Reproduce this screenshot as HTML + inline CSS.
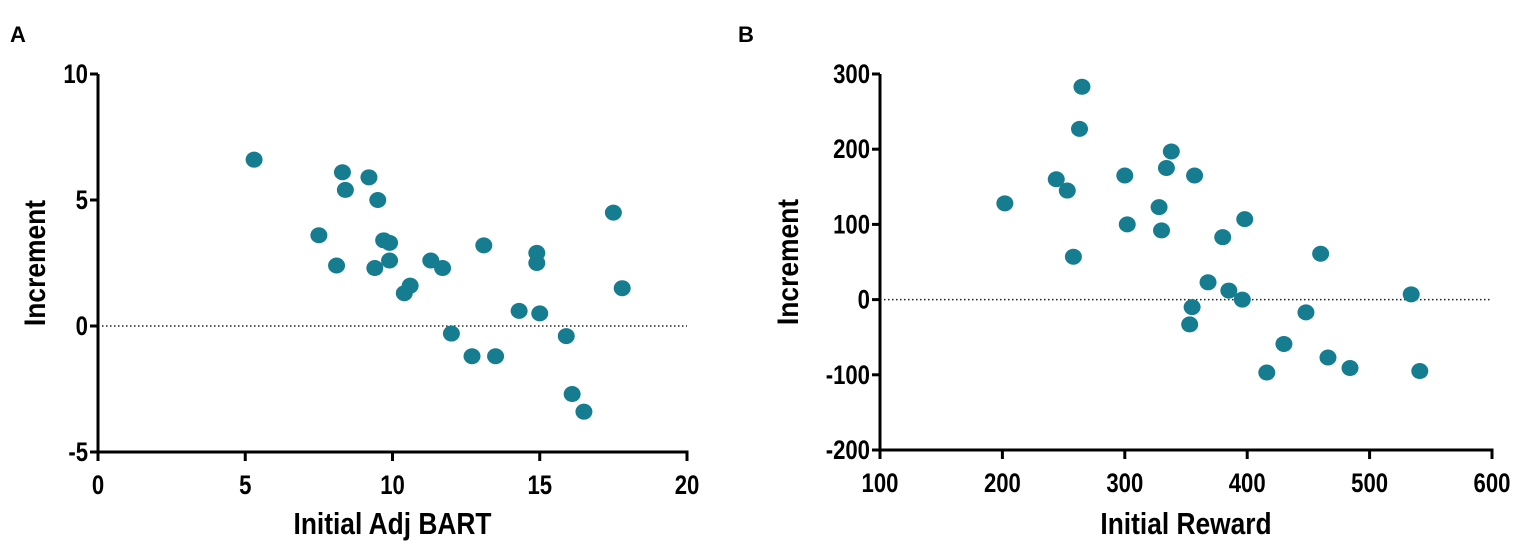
<!DOCTYPE html>
<html><head><meta charset="utf-8"><style>
html,body{margin:0;padding:0;background:#fff;}
svg{display:block;font-family:"Liberation Sans",sans-serif;font-weight:bold;}
</style></head><body>
<svg id="fig" width="1535" height="552" viewBox="0 0 1535 552">
<text x="10" y="42" font-size="22">A</text>
<text x="738" y="42" font-size="22">B</text>
<g id="pa"></g>
<g id="pb"></g>
</svg>
<script>
const aX=[5.3,7.5,8.1,8.3,8.4,9.2,9.4,9.5,9.7,9.9,9.9,10.4,10.6,11.3,11.7,12.0,12.7,13.1,13.5,14.3,14.9,14.9,15.0,15.9,16.1,16.5,17.5,17.8];
const aY=[6.6,3.6,2.4,6.1,5.4,5.9,2.3,5.0,3.4,3.3,2.6,1.3,1.6,2.6,2.3,-0.3,-1.2,3.2,-1.2,0.6,2.9,2.5,0.5,-0.4,-2.7,-3.4,4.5,1.5];
const aXTicks=[0,5,10,15,20];
const aYTicks=[-5,0,5,10];
const bX=[202,244,253,258,263,265,300,302,328,330,334,338,353,355,357,368,380,385,396,398,416,430,448,460,466,484,534,541];
const bY=[128,160,145,57,227,283,165,100,123,92,175,197,-33,-10,165,23,83,12,0,107,-97,-59,-17,61,-77,-91,7,-95];
const bXTicks=[100,200,300,400,500,600];
const bYTicks=[-200,-100,0,100,200,300];
const NS="http://www.w3.org/2000/svg";
function mk(p,t,a){const e=document.createElementNS(NS,t);for(const k in a)e.setAttribute(k,a[k]);p.appendChild(e);return e;}
function panel(g,o){
  const sx=v=>o.x0+(v-o.xmin)/(o.xmax-o.xmin)*(o.x1-o.x0);
  const sy=v=>o.y0-(v-o.ymin)/(o.ymax-o.ymin)*(o.y0-o.y1);
  const zl=mk(g,'line',{x1:sx(o.xmin)+4,x2:sx(o.xmax),y1:sy(0),y2:sy(0),stroke:'#222','stroke-width':1.5,'stroke-dasharray':'1.5,2.5'});
  
  
  const ya=mk(g,'line',{x1:o.x0,x2:o.x0,y1:o.y1,y2:o.y0+1.5,stroke:'#000','stroke-width':3});
  
  
  const xa=mk(g,'line',{x1:o.x0-1.5,x2:o.x1+1.5,y1:o.y0,y2:o.y0,stroke:'#000','stroke-width':3});
  
  
  o.yt.forEach(v=>{
    const t=mk(g,'line',{x1:o.x0-8,x2:o.x0,y1:sy(v),y2:sy(v),stroke:'#000','stroke-width':3});
    
    
    const px=o.x0-10, py=sy(v)+9;
    const l=mk(g,'text',{x:0,y:0,'text-anchor':'end','font-size':27,transform:`translate(${px} ${py}) scale(0.82 1)`});
    l.textContent=v;
    
    
  });
  o.xt.forEach(v=>{
    const t=mk(g,'line',{x1:sx(v),x2:sx(v),y1:o.y0,y2:o.y0+9,stroke:'#000','stroke-width':3});
    
    
    const px=sx(v), py=o.y0+42;
    const l=mk(g,'text',{x:0,y:0,'text-anchor':'middle','font-size':27,transform:`translate(${px} ${py}) scale(0.82 1)`});
    l.textContent=v;
    
    
  });
  const mx=(o.x0+o.x1)/2;
  const xt=mk(g,'text',{x:0,y:0,'text-anchor':'middle','font-size':31,transform:`translate(${mx} 534) scale(0.85 1)`});
  xt.textContent=o.xl;
  
  
  const cy=(o.y0+o.y1)/2;
  const yt=mk(g,'text',{x:0,y:0,'text-anchor':'middle','font-size':30,transform:`translate(${o.yx} ${cy}) rotate(-90) scale(0.88 1)`});
  yt.textContent='Increment';
  
  
  o.xs.forEach((v,i)=>{
    const c=mk(g,'ellipse',{cx:sx(v),cy:sy(o.ys[i]),rx:8.5,ry:8,fill:'#157d8f'});
    
    
  });
}
panel(document.getElementById('pa'),{x0:98,x1:687,y0:452,y1:74,xmin:0,xmax:20,ymin:-5,ymax:10,xs:aX,ys:aY,xt:aXTicks,yt:aYTicks,xl:'Initial Adj BART',yx:45});
panel(document.getElementById('pb'),{x0:880,x1:1492,y0:450,y1:74,xmin:100,xmax:600,ymin:-200,ymax:300,xs:bX,ys:bY,xt:bXTicks,yt:bYTicks,xl:'Initial Reward',yx:798});
</script>
</body></html>
